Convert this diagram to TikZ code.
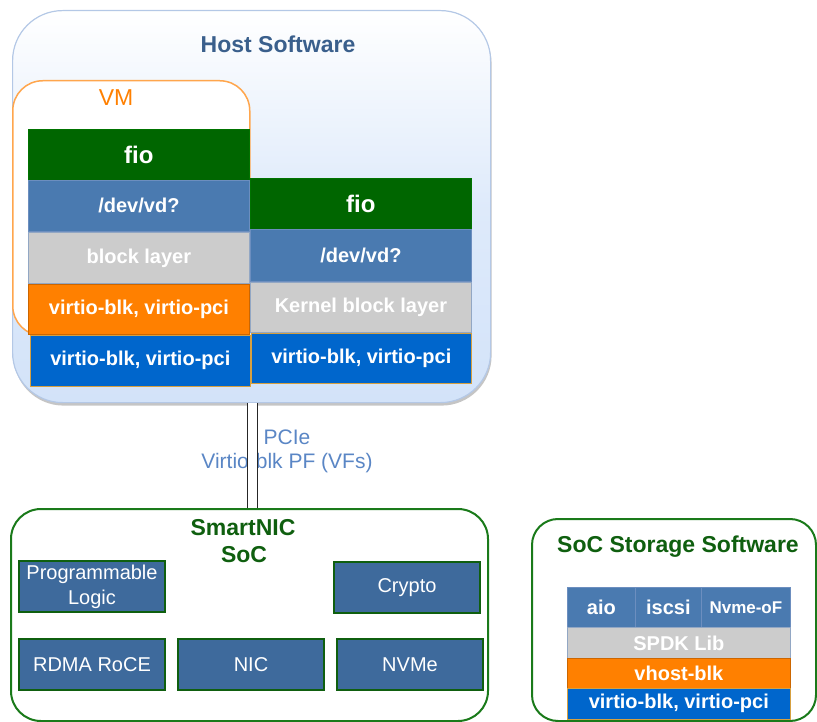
\documentclass[tikz,border=0pt]{standalone}
\usepackage{fontspec}
\setmainfont{Liberation Sans}
\usetikzlibrary{shadows,calc}
\definecolor{fiogreen}{HTML}{006600}
\definecolor{devblue}{HTML}{4A7AB0}
\definecolor{devborder}{HTML}{6C8EBF}
\definecolor{layergray}{HTML}{CCCCCC}
\definecolor{vorange}{HTML}{FF8000}
\definecolor{vblue}{HTML}{0066CC}
\definecolor{vblueborder}{HTML}{D6A040}
\definecolor{hostfill}{HTML}{D3E3F9}
\definecolor{hostborder}{HTML}{B4C8E6}
\definecolor{hosttitle}{HTML}{3A5F8C}
\definecolor{pcietext}{HTML}{5A86C5}
\definecolor{nicgreen}{HTML}{1A7A1A}
\definecolor{nictitle}{HTML}{0F5F0F}
\definecolor{nicbox}{HTML}{3E6A9C}
\definecolor{vmorange}{HTML}{FFA64D}
\begin{document}
\begin{tikzpicture}[x=1pt,y=-1pt,
  layer/.style={draw, line width=0.8pt, anchor=north west, inner sep=0pt, text=white,
    font=\fontsize{20}{24}\selectfont\bfseries},
  fiobox/.style={layer, fill=fiogreen, draw=green!45!black, font=\fontsize{24}{28}\selectfont\bfseries},
  devbox/.style={layer, fill=devblue, draw=devborder},
  graybox/.style={layer, fill=layergray, draw=devborder!60!layergray},
  orangebox/.style={layer, fill=vorange, draw=orange!80!black},
  vbluebox/.style={layer, fill=vblue, draw=vblueborder, line width=0.6pt},
  nicbx/.style={draw=nictitle, line width=2pt, fill=nicbox, anchor=north west, inner sep=0pt,
    text=white, minimum width=146pt, minimum height=51pt, align=center,
    font=\fontsize{20}{25}\selectfont},
  greenframe/.style={draw=nicgreen, line width=2pt, fill=white, anchor=north west},
  title/.style={anchor=base, inner sep=0pt, font=\fontsize{23}{27}\selectfont\bfseries}
]
\useasboundingbox (0,0) rectangle (817,722);

% Host software
\node[draw=hostborder, line width=1.2pt, rounded corners=50pt, top color=white, bottom color=hostfill,
  middle color=hostfill!75!white,
  drop shadow={shadow xshift=1pt, shadow yshift=-3pt, fill=black!45, opacity=.5},
  anchor=north west, minimum width=478pt, minimum height=392pt] (host) at (12,10) {};
\node[title, text=hosttitle] (hosttl) at (278,53) {Host Software};

% VM
\node[draw=vmorange, line width=1.5pt, fill=white, rounded corners=30pt, anchor=north west,
  minimum width=237pt, minimum height=255pt] (vm) at (12,80) {};
\node[anchor=base, inner sep=0pt, text=vorange, font=\fontsize{23}{27}\selectfont] (vmtl) at (116,106) {VM};

% Left stack
\node[fiobox, minimum width=221pt, minimum height=51pt] (fio1) at (28,129) {fio};
\node[devbox, minimum width=221pt, minimum height=51pt] (dev1) at (28,180) {/dev/vd?};
\node[graybox, minimum width=221pt, minimum height=51pt] (blk1) at (28,232) {block layer};
\node[orangebox, minimum width=221pt, minimum height=50pt] (vpo) at (28,284) {virtio-blk, virtio-pci};
\node[vbluebox, minimum width=220pt, minimum height=51pt] (vpb1) at (30,335) {virtio-blk, virtio-pci};

% Right stack
\node[fiobox, minimum width=221pt, minimum height=51pt] (fio2) at (250,178) {fio};
\node[devbox, minimum width=221pt, minimum height=52pt] (dev2) at (250,229) {/dev/vd?};
\node[graybox, minimum width=221pt, minimum height=50pt] (kbl) at (250,282) {Kernel block layer};
\node[vbluebox, minimum width=220pt, minimum height=50pt] (vpb2) at (251,333) {virtio-blk, virtio-pci};

% SmartNIC
\node[greenframe, rounded corners=30pt, minimum width=477pt, minimum height=212pt] (nic) at (10,508) {};
\node[title, text=nictitle] (nictl1) at (243,535) {SmartNIC};
\node[title, text=nictitle] (nictl2) at (244,562) {SoC};
\node[nicbx] (pl) at (18,560) {Programmable\\Logic};
\node[nicbx] (crypto) at (333,561) {Crypto};
\node[nicbx] (rdma) at (18,638) {RDMA RoCE};
\node[nicbx] (nicb) at (177,638) {NIC};
\node[nicbx] (nvme) at (336,638) {NVMe};

% PCIe link
\node[anchor=base, inner sep=0pt, text=pcietext, font=\fontsize{21}{25}\selectfont] (pcie1) at (287,444) {PCIe};
\node[anchor=base, inner sep=0pt, text=pcietext, font=\fontsize{21}{25}\selectfont] (pcie2) at (287,468) {Virtio-blk PF (VFs)};
\draw[double distance=8.5pt, line width=1.2pt, draw=black!85] ([xshift=1pt]host.south) -- ([xshift=1pt]host.south |- nic.north);

% SoC storage software
\node[greenframe, rounded corners=26pt, minimum width=284pt, minimum height=202pt] (soc) at (531,518) {};
\node[title, text=nictitle] (soctl) at (678,552) {SoC Storage Software};
\node[devbox, minimum width=68pt, minimum height=40pt] (aio) at (567,587) {aio};
\node[devbox, minimum width=66pt, minimum height=40pt] (iscsi) at (635,587) {iscsi};
\node[devbox, minimum width=89pt, minimum height=40pt, font=\fontsize{17}{20}\selectfont\bfseries] (nvmeof) at (701,587) {Nvme-oF};
\node[graybox, minimum width=223pt, minimum height=31pt] (spdk) at (567,627) {SPDK Lib};
\node[orangebox, minimum width=223pt, minimum height=30pt] (vhost) at (567,658) {vhost-blk};
\node[vbluebox, minimum width=223pt, minimum height=31pt] (vpb3) at (567,688) {virtio-blk, virtio-pci};
\end{tikzpicture}
\end{document}
